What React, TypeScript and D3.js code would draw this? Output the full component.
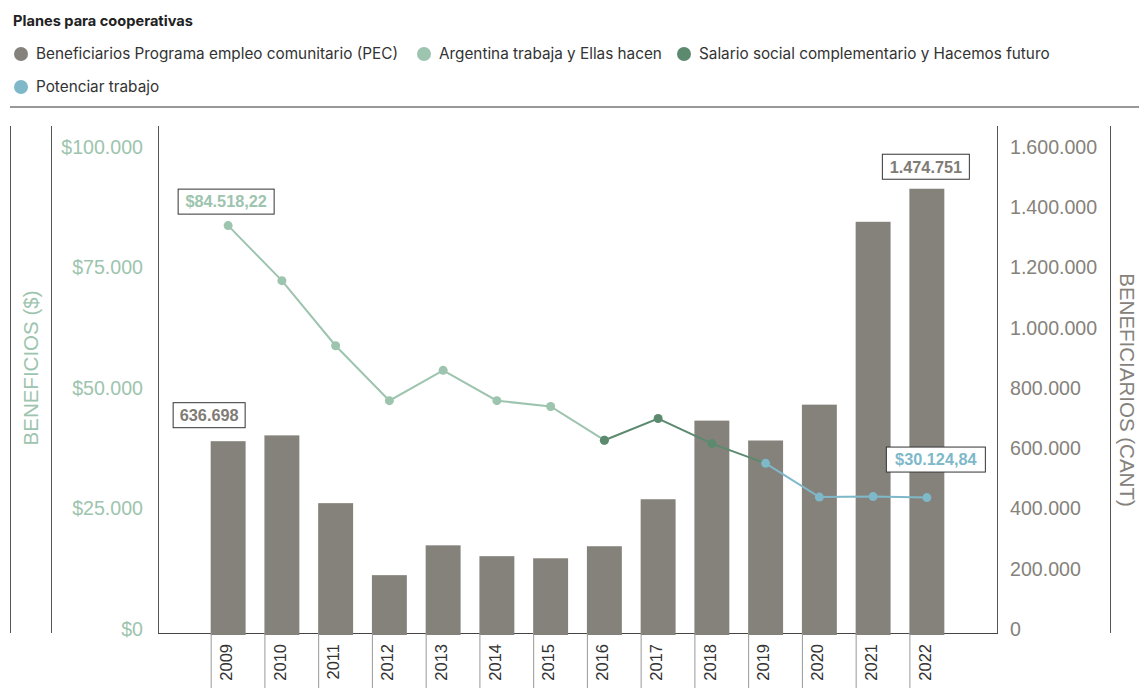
import React from "react";
import * as d3 from "d3";

const title = "Planes para cooperativas";
const years = ["2009","2010","2011","2012","2013","2014","2015","2016","2017","2018","2019","2020","2021","2022"];
const beneficiarios = [636698, 656000, 431000, 192000, 291000, 255000, 248000, 288000, 444000, 705000, 639000, 758000, 1365000, 1474751];
const argentinaTrabajaYears = ["2009","2010","2011","2012","2013","2014","2015","2016"];
const argentinaTrabaja = [84518.22, 73100, 59600, 48200, 54500, 48200, 47000, 40000];
const salarioSocialYears = ["2016","2017","2018","2019"];
const salarioSocial = [40000, 44500, 39300, 35200];
const potenciarYears = ["2019","2020","2021","2022"];
const potenciar = [35200, 28200, 28300, 28100];
const leftTicks = [0, 25000, 50000, 75000, 100000];
const rightTicks = [0, 200000, 400000, 600000, 800000, 1000000, 1200000, 1400000, 1600000];
const legendItems = [
  { label: "Beneficiarios Programa empleo comunitario (PEC)", color: "#85827b" },
  { label: "Argentina trabaja y Ellas hacen", color: "#9dc4ae" },
  { label: "Salario social complementario y Hacemos futuro", color: "#5c8a6e" },
  { label: "Potenciar trabajo", color: "#7eb8c9" },
];
const annotations = [
  { text: "$84.518,22", color: "#9dc4ae" },
  { text: "636.698", color: "#7f7c76" },
  { text: "1.474.751", color: "#7f7c76" },
  { text: "$30.124,84", color: "#7eb8c9" },
];

const locale = d3.formatLocale({ decimal: ",", thousands: ".", grouping: [3], currency: ["$", ""] });
const fmtMoney = locale.format("$,.0f");
const fmtNum = locale.format(",.0f");

const W = 1139, H = 688;
const plotL = 158, plotR = 997, plotB = 633, plotT = 151;
const axisFont = "'Liberation Sans', Arial, sans-serif";
const uiFont = "Inter, 'Noto Sans', sans-serif";

export default function App() {
  const x = d3.scaleBand<string>().domain(years).range([plotL, plotR]).paddingInner(0.35).paddingOuter(0.98);
  const yL = d3.scaleLinear().domain([0, 100000]).range([plotB, plotT]);
  const yR = d3.scaleLinear().domain([0, 1600000]).range([plotB, plotT]);
  const cx = (yr: string) => (x(yr) as number) + x.bandwidth() / 2;
  const line = d3.line<[string, number]>().x(d => cx(d[0])).y(d => yL(d[1]));

  const series = [
    { yrs: argentinaTrabajaYears, vals: argentinaTrabaja, color: legendItems[1].color },
    { yrs: salarioSocialYears, vals: salarioSocial, color: legendItems[2].color },
    { yrs: potenciarYears, vals: potenciar, color: legendItems[3].color },
  ];

  const legendRows = [
    [{ i: 0, x: 21 }, { i: 1, x: 424 }, { i: 2, x: 684 }],
    [{ i: 3, x: 21 }],
  ];

  const firstYear = years[0], lastYear = years[years.length - 1];
  const annPos = [
    { cx: cx(argentinaTrabajaYears[0]) - 2, cy: yL(argentinaTrabaja[0]) - 24, w: 96 },
    { cx: cx(firstYear) - 19, cy: yR(beneficiarios[0]) - 26, w: 72 },
    { cx: cx(lastYear) - 1, cy: yR(beneficiarios[beneficiarios.length - 1]) - 22, w: 87 },
    { cx: cx(potenciarYears[potenciarYears.length - 1]) + 9, cy: yL(potenciar[potenciar.length - 1]) - 38, w: 99 },
  ];

  return (
    <svg width={W} height={H} style={{ position: "absolute", left: 0, top: 0, display: "block" }}>
      <rect width={W} height={H} fill="#fff" />
      <text x={13} y={26} fontFamily={uiFont} fontWeight={700} fontSize={14.6} fill="#222">{title}</text>
      {legendRows.map((row, ri) =>
        row.map(({ i, x: lx }) => (
          <g key={`${ri}-${i}`} transform={`translate(${lx},${54 + ri * 33})`}>
            <circle r={7} fill={legendItems[i].color} />
            <text x={15} dy="0.35em" fontFamily={uiFont} fontSize={15.3} fill="#333">{legendItems[i].label}</text>
          </g>
        ))
      )}
      <line x1={10} x2={W} y1={107} y2={107} stroke="#333" strokeWidth={1.2} />

      {[10, 51, plotL, plotR, 1110].map(v => (
        <line key={v} x1={v + 0.5} x2={v + 0.5} y1={126} y2={plotB} stroke="#555" strokeWidth={1} />
      ))}
      <line x1={plotL} x2={plotR + 1} y1={plotB + 0.5} y2={plotB + 0.5} stroke="#444" strokeWidth={1} />

      <text transform={`translate(31,368) rotate(-90)`} textAnchor="middle" dy="0.35em" fontFamily={axisFont} fontSize={20.5} fill="#9dc4ae">BENEFICIOS ($)</text>
      <text transform={`translate(1127,390) rotate(90)`} textAnchor="middle" dy="0.35em" fontFamily={axisFont} fontSize={20.5} fill="#85827b">BENEFICIARIOS (CANT)</text>

      {leftTicks.map(t => (
        <text key={t} x={143} y={yL(t) - 4} dy="0.35em" textAnchor="end" fontFamily={axisFont} fontSize={19.6} fill="#9dc4ae">{fmtMoney(t)}</text>
      ))}
      {rightTicks.map(t => (
        <text key={t} x={1010} y={yR(t) - 4} dy="0.35em" textAnchor="start" fontFamily={axisFont} fontSize={19.6} fill="#85827b">{fmtNum(t)}</text>
      ))}

      {years.map((yr, i) => (
        <rect key={yr} x={x(yr)} y={yR(beneficiarios[i])} width={x.bandwidth()} height={plotB + 2 - yR(beneficiarios[i])} fill="#85827b" />
      ))}

      {years.map(yr => (
        <g key={yr}>
          <line x1={(x(yr) as number) + 0.5} x2={(x(yr) as number) + 0.5} y1={plotB} y2={H} stroke="#999" strokeWidth={1} />
          <text transform={`translate(${cx(yr) - 2},644) rotate(-90)`} textAnchor="end" dy="0.35em" fontFamily={axisFont} fontSize={16.5} fill="#333">{yr}</text>
        </g>
      ))}

      {series.map((s, si) => {
        const pts: [string, number][] = s.yrs.map((yr, j) => [yr, s.vals[j]]);
        return (
          <g key={si}>
            <path d={line(pts) || ""} fill="none" stroke={s.color} strokeWidth={2} />
            {pts.map(p => (
              <circle key={p[0]} cx={cx(p[0])} cy={yL(p[1])} r={4.5} fill={s.color} />
            ))}
          </g>
        );
      })}

      {annotations.map((a, i) => {
        const p = annPos[i];
        return (
          <g key={i} transform={`translate(${p.cx},${p.cy})`}>
            <rect x={-p.w / 2} y={-12.5} width={p.w} height={25} fill="#fff" stroke="#333" strokeWidth={1} />
            <text textAnchor="middle" dy="0.36em" fontFamily={axisFont} fontWeight={700} fontSize={16.3} fill={a.color}>{a.text}</text>
          </g>
        );
      })}
    </svg>
  );
}
